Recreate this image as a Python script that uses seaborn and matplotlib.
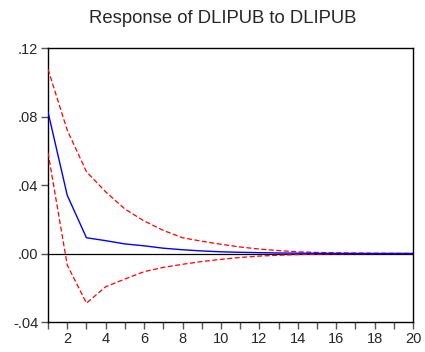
import numpy as np
import pandas as pd
import matplotlib
matplotlib.use("Agg")
import matplotlib.pyplot as plt
import seaborn as sns

periods = list(range(1, 21))
response = [0.0826, 0.034, 0.0092, 0.0075, 0.0056, 0.0045, 0.0031, 0.0022, 0.0015,
            0.0010, 0.0007, 0.0005, 0.0003, 0.0002, 0.00012, 0.00008, 0.00005,
            0.00003, 0.00002, 0.00001]
upper = [0.1076, 0.072, 0.0478, 0.036, 0.026, 0.019, 0.0135, 0.0092, 0.0072,
         0.0054, 0.0038, 0.0026, 0.0017, 0.0010, 0.0006, 0.0004, 0.00025,
         0.00015, 0.0001, 0.00006]
lower = [0.0589, -0.0067, -0.029, -0.0194, -0.0149, -0.0106, -0.0081, -0.0063,
         -0.0047, -0.0034, -0.0023, -0.0015, -0.0010, -0.0006, -0.0004, -0.0002,
         -0.00012, -0.00008, -0.00005, -0.00003]
title = "Response of DLIPUB to DLIPUB"
ytick_vals = [-0.04, 0.00, 0.04, 0.08, 0.12]
ytick_labels = ["-.04", ".00", ".04", ".08", ".12"]
xtick_vals = [2, 4, 6, 8, 10, 12, 14, 16, 18, 20]

sns.set_style("white")
plt.rcParams['font.family'] = ['Liberation Sans', 'DejaVu Sans']

df = pd.DataFrame({"period": periods, "response": response, "upper": upper, "lower": lower})

fig = plt.figure(figsize=(4.25, 3.52), dpi=100)
ax = fig.add_axes([0.113, 0.0852, 0.859, 0.7784])

ax.axhline(0, color="black", lw=0.9, zorder=1)
sns.lineplot(data=df, x="period", y="upper", ax=ax, color="red", lw=0.9,
             linestyle=(0, (4, 2)), zorder=3)
sns.lineplot(data=df, x="period", y="lower", ax=ax, color="red", lw=0.9,
             linestyle=(0, (4, 2)), zorder=3)
sns.lineplot(data=df, x="period", y="response", ax=ax, color="blue", lw=1.0, zorder=4)

ax.set_xlim(1, 20)
ax.set_ylim(-0.04, 0.12)
ax.set_yticks(ytick_vals)
ax.set_yticklabels(ytick_labels)
ax.set_xticks(xtick_vals)
ax.set_xticklabels([str(v) for v in xtick_vals])
ax.set_xticks(periods, minor=True)
ax.set_xlabel("")
ax.set_ylabel("")
ax.tick_params(axis="both", which="major", direction="out", length=5, width=1,
               color="#555555", labelsize=10.5, pad=2, left=True, bottom=True)
ax.tick_params(axis="x", which="minor", direction="out", length=5, width=1,
               color="#555555", bottom=True)
for s in ax.spines.values():
    s.set_color("black")
    s.set_linewidth(1.0)
ax.set_title(title, fontsize=13.3, pad=18, x=0.478)

fig.savefig("out.png", dpi=100)
